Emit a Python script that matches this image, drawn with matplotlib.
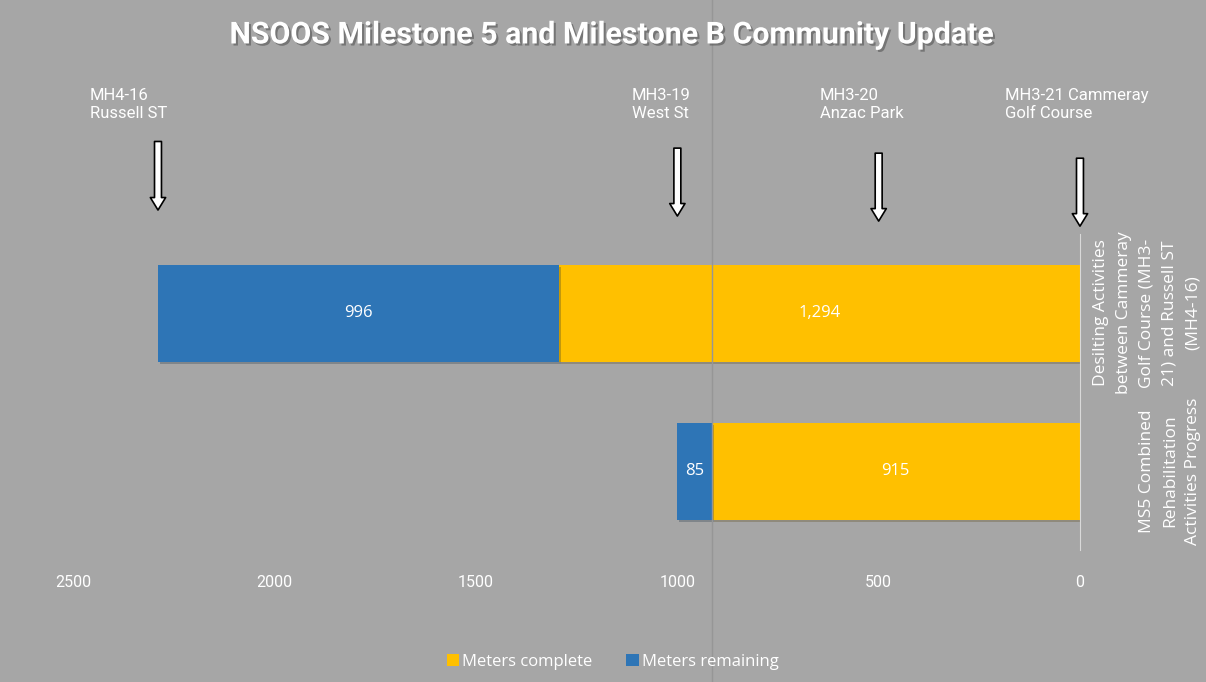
import matplotlib.pyplot as plt
import matplotlib.patheffects as pe
import numpy as np

categories = ["MS5 Combined\nRehabilitation\nActivities Progress",
              "Desilting Activities\nbetween Cammeray\nGolf Course (MH3-\n21) and Russell ST\n(MH4-16)"]
complete = [915, 1294]
remaining = [85, 996]

manholes = ["MH4-16\nRussell ST", "MH3-19\nWest St", "MH3-20\nAnzac Park", "MH3-21 Cammeray\nGolf Course"]
manhole_pos = [2290, 1000, 500, 0]
label_pos = [2460, 1113, 646, 186]

bg = '#a6a6a6'
gold = '#ffc000'
blue = '#2e75b6'
narrow = ['Roboto', 'DejaVu Sans']
plain = ['Open Sans', 'DejaVu Sans']

fig = plt.figure(figsize=(12.06, 6.82), dpi=100, facecolor=bg)
ax = fig.add_axes([0.0609, 0.1935, 0.8346, 0.4633], facecolor=bg)

y = np.arange(len(categories))
b1 = ax.barh(y, complete, height=0.614, color=gold, label='Meters complete')
b2 = ax.barh(y, remaining, left=complete, height=0.614, color=blue, label='Meters remaining')

for bars in (b1, b2):
    for r in bars:
        w = r.get_width()
        ax.text(r.get_x() + w / 2, r.get_y() + r.get_height() / 2, f"{w:,.0f}",
                ha='center', va='center', color='white', fontsize=12, family=plain)

ax.set_xlim(2500, 0)
ax.set_ylim(-0.5, 1.5)
ax.set_xticks([2500, 2000, 1500, 1000, 500, 0])
ax.tick_params(axis='x', length=0, pad=18, colors='white', labelsize=11.5)
for t in ax.get_xticklabels():
    t.set_family(narrow)
ax.set_yticks([])
for s in ['left', 'top', 'bottom']:
    ax.spines[s].set_visible(False)
ax.spines['right'].set_color('#d9d9d9')

# category names on the right, rotated
for yi, c in zip(y, categories):
    ax.text(1.12, yi, c, transform=ax.get_yaxis_transform(), rotation=90,
            ha='right', va='center', multialignment='center', color='white',
            fontsize=12.5, family=plain, linespacing=1.58)

# manhole markers
trans = ax.get_xaxis_transform()
tails = [1.293, 1.272, 1.256, 1.240]
tips = [1.076, 1.057, 1.041, 1.025]
for name, xp, xl, t0, t1 in zip(manholes, manhole_pos, label_pos, tails, tips):
    ax.annotate('', xy=(xp, t1), xytext=(xp, t0), xycoords=trans, textcoords=trans,
                arrowprops=dict(arrowstyle='simple,head_width=1.1,head_length=0.9,tail_width=0.5',
                                fc='white', ec='black', lw=1.2, shrinkA=0, shrinkB=0),
                annotation_clip=False)
    ax.text(xl, 1.41, name, transform=trans, ha='left', va='center', color='white',
            fontsize=12, family=narrow, linespacing=1.25)

ax.axvline(915, ymin=-0.5, ymax=2.2, color='#969696', lw=1, clip_on=False, zorder=5)

fig.text(0.507, 0.948, "NSOOS Milestone 5 and Milestone B Community Update", ha='center', va='center',
         color='white', fontsize=21.8, fontweight='bold', family=narrow,
         path_effects=[pe.withSimplePatchShadow(offset=(1.5, -1.5), shadow_rgbFace='#555555', alpha=0.6)])

leg = fig.legend(loc='center', bbox_to_anchor=(0.508, 0.03), ncol=2, frameon=False,
                 handlelength=0.75, handleheight=0.75, handletextpad=0.2, columnspacing=2.0,
                 prop={'family': plain, 'size': 12})
for t in leg.get_texts():
    t.set_color('white')

# soft drop shadow on the bars only
for r in list(b1) + list(b2):
    r.set_path_effects([pe.withSimplePatchShadow(offset=(1.5, -1.5), alpha=0.25)])

fig.savefig('out.png', dpi=100, facecolor=bg)
